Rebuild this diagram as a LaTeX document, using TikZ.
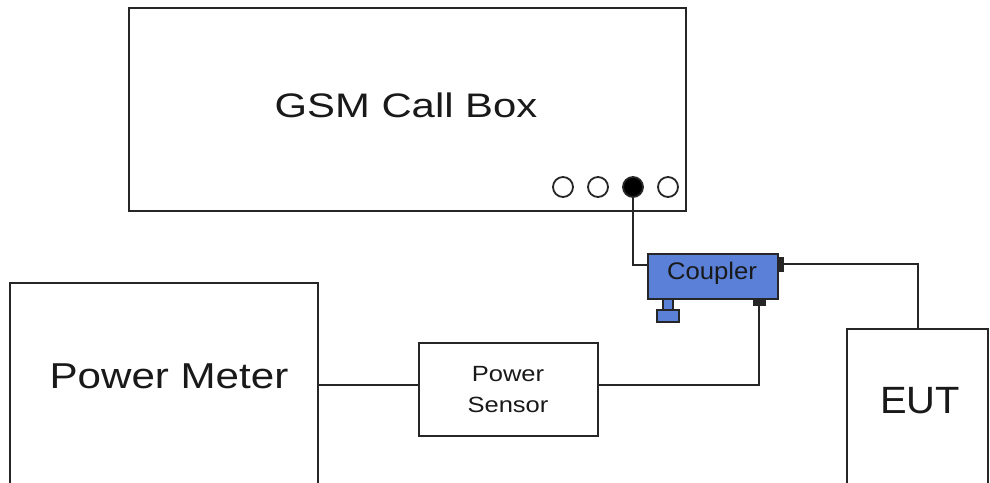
\documentclass[tikz,border=0pt]{standalone}
\usepackage{fontspec}
\setmainfont{Liberation Sans}
\usepackage{graphicx}
\definecolor{cpl}{RGB}{90,128,216}
\newcommand{\sx}[2]{\scalebox{#1}[1]{#2}}
\begin{document}
\begin{tikzpicture}[x=1pt,y=-1pt,
  box/.style={draw=black!85,line width=2pt,fill=white,inner sep=0pt,rectangle},
  port/.style={draw=black!85,line width=1.8pt,circle,minimum size=20pt,inner sep=0pt,fill=white},
  wire/.style={draw=black!85,line width=2pt},
  txt/.style={inner sep=0pt,text=black!90}]
\useasboundingbox[fill=white] (0,0) rectangle (990,482);
% boxes
\node[box,minimum width=557pt,minimum height=203pt] (gsm) at (407.5,109.5) {};
\node[txt,font=\fontsize{34}{40}\selectfont] (gsmt) at (406,105) {\sx{1.23}{GSM Call Box}};
\node[port] (p1) at (563,187) {};
\node[port] (p2) at (598,187) {};
\node[port,fill=black] (p3) at (633,187) {};
\node[port] (p4) at (668,187) {};
\node[box,minimum width=308pt,minimum height=207pt] (meter) at (164,386.5) {};
\node[txt,font=\fontsize{36}{40}\selectfont] (metert) at (169,376) {\sx{1.17}{Power Meter}};
\node[box,line width=1.8pt,minimum width=179pt,minimum height=93pt] (sensor) at (508.5,389.5) {};
\node[txt,align=center,font=\fontsize{22}{31}\selectfont] (sensort) at (508,390) {\sx{1.16}{Power}\\\sx{1.16}{Sensor}};
\node[box,minimum width=141pt,minimum height=161pt] (eut) at (917.5,409.5) {};
\node[txt,font=\fontsize{38}{40}\selectfont] (eutt) at (920,401) {\sx{1.05}{EUT}};
% coupler
\node[box,line width=1.8pt,fill=cpl,minimum width=130pt,minimum height=45pt] (coupler) at (713,276.5) {};
\node[txt,font=\fontsize{24}{28}\selectfont] (couplert) at (712,273) {\sx{1.07}{Coupler}};
\node[draw=black!85,fill=black!85,inner sep=0pt,minimum width=5pt,minimum height=14pt] (cr) at (780.5,264) {};
\node[draw=black!85,fill=black!85,inner sep=0pt,minimum width=12pt,minimum height=6pt] (cb) at (759,302) {};
\node[draw=black!85,line width=1.2pt,fill=cpl,inner sep=0pt,minimum width=10pt,minimum height=11pt] (stem) at (668,304.5) {};
\node[draw=black!85,line width=1.2pt,fill=cpl,inner sep=0pt,minimum width=22pt,minimum height=12pt] (foot) at (668,316) {};
% wires
\coordinate (ly) at (0,265);
\coordinate (lv) at (0,385);
\draw[wire] (p3.south) |- (coupler.west |- ly);
\draw[wire] (cr.east) -| (eut.north);
\draw[wire] (cb.south) |- (sensor.east |- lv);
\draw[wire] (meter.east |- lv) -- (sensor.west |- lv);
\end{tikzpicture}
\end{document}
